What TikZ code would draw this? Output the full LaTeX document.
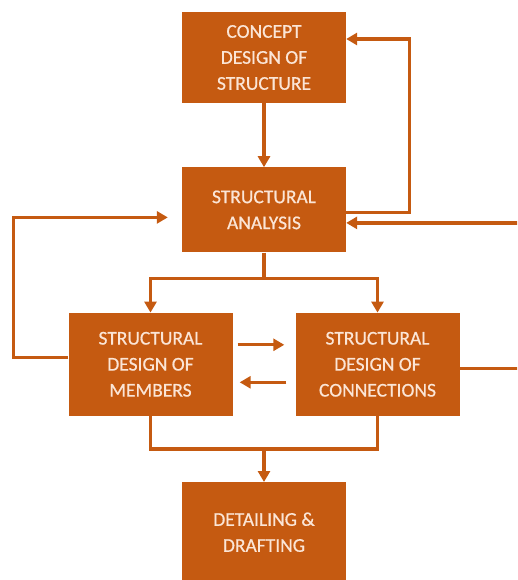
\documentclass[tikz,border=0pt]{standalone}
\usepackage{fontspec}
\setmainfont{Carlito}
\newfontfamily\boxfont[FakeBold=0.6]{Carlito}
\usetikzlibrary{positioning}
\usetikzlibrary{arrows.meta}
\definecolor{boxorange}{HTML}{C55A11}
\definecolor{boxtext}{HTML}{FBE5D6}

\begin{document}
\begin{tikzpicture}[x=1pt,y=1pt,
    stagebox/.style={fill=boxorange,text=boxtext,align=center,minimum width=164pt,
      inner sep=0pt,font=\boxfont\fontsize{19.5}{26}\selectfont},
    flow/.style={draw=boxorange,line width=3.2pt},
    flowarrow/.style={flow,-{Triangle[width=12pt,length=11pt]}}]
\clip (0,0) rectangle (517,-580);
\node[stagebox,minimum height=91pt] (concept) at (264,-57.5) {CONCEPT\\DESIGN OF\\STRUCTURE};
\node[stagebox,minimum height=85pt,below=64pt of concept] (analysis) {STRUCTURAL\\ANALYSIS};
\node[stagebox,minimum height=103pt,below=60pt of analysis,xshift=-113.5pt] (members) {STRUCTURAL\\DESIGN OF\\MEMBERS};
\node[stagebox,minimum height=103pt,below=60pt of analysis,xshift=113.5pt] (connections) {STRUCTURAL\\DESIGN OF\\CONNECTIONS};
\node[stagebox,minimum height=100pt,below=66pt of members,xshift=113.5pt] (detailing) {DETAILING \&\\DRAFTING};
\coordinate (split) at ([yshift=-26pt]analysis.south);
\coordinate (merge) at ([yshift=-33pt]members.south-|split);
\coordinate (leftin) at ([xshift=-14pt,yshift=-7.5pt]analysis.west);
  \draw[flowarrow] (concept) -- (analysis);
  \draw[flowarrow] ([yshift=-2.5pt]analysis.east) -- ++(63,0) |- ([yshift=18.5pt]concept.east);
  \draw[flowarrow] ([yshift=-4.5pt]connections.east) -- ++(70,0) |- ([yshift=-13pt]analysis.east);
  \draw[flowarrow] ([yshift=6.5pt]members.west) -- ++(-55,0) |- (leftin);
  \draw[flow] (analysis) -- (split);
  \draw[flowarrow] (split) -| (members);
  \draw[flowarrow] (split) -| (connections);
  \draw[flowarrow] ([xshift=5pt,yshift=19.5pt]members.east) -- ([xshift=-11pt,yshift=19.5pt]connections.west);
  \draw[flowarrow] ([xshift=-9pt,yshift=-18pt]connections.west) -- ([xshift=7pt,yshift=-18pt]members.east);
  \draw[flow] (members) |- (merge) -| (connections);
  \draw[flowarrow] (merge) -- (detailing);
\end{tikzpicture}
\end{document}
